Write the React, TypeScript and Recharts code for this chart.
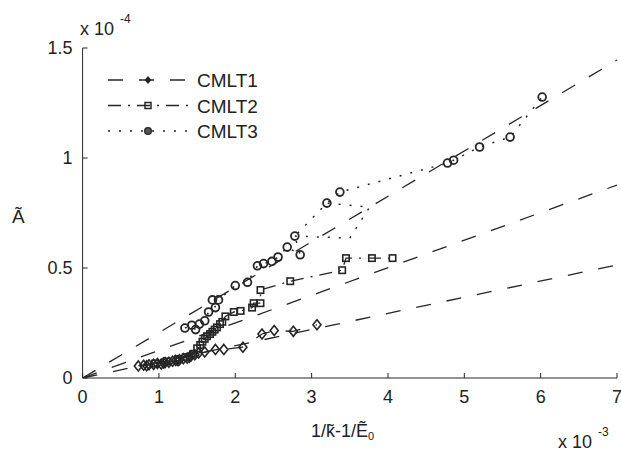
import { ComposedChart, Scatter, XAxis, YAxis } from "recharts";

// axis ticks (x in 1e-3, y in 1e-4)
const xTicks = [0, 1, 2, 3, 4, 5, 6, 7];
const yTicks = [0, 0.5, 1, 1.5];

// fitted lines through the origin, end points
const fitSteep: [number, number][] = [[0, 0], [7, 1.445]];
const fitMid: [number, number][] = [[0, 0], [7, 0.877]];
const fitFlat: [number, number][] = [[0, 0], [7, 0.514]];

const cmlt1: [number, number][] = [
  [0.73, 0.055], [0.8, 0.058], [0.84, 0.056], [0.87, 0.06], [0.93, 0.062], [0.98, 0.066],
  [1.03, 0.064], [1.06, 0.068], [1.08, 0.07], [1.13, 0.072], [1.18, 0.076], [1.22, 0.08],
  [1.25, 0.078], [1.27, 0.083], [1.32, 0.088], [1.37, 0.091], [1.4, 0.095], [1.42, 0.1],
  [1.47, 0.106], [1.52, 0.114], [1.6, 0.118], [1.74, 0.13], [1.85, 0.13], [2.1, 0.14],
  [2.35, 0.2], [2.51, 0.216], [2.76, 0.212], [3.07, 0.242],
];

const cmlt2: [number, number][] = [
  [0.95, 0.066], [1.1, 0.075], [1.25, 0.086], [1.35, 0.095], [1.45, 0.11], [1.5, 0.135],
  [1.54, 0.15], [1.57, 0.165], [1.6, 0.178], [1.63, 0.19], [1.67, 0.2], [1.7, 0.21],
  [1.73, 0.22], [1.76, 0.23], [1.8, 0.245], [1.83, 0.255], [1.87, 0.28], [1.98, 0.3],
  [2.07, 0.305], [2.22, 0.32], [2.24, 0.34], [2.33, 0.34], [2.33, 0.4], [2.72, 0.44],
  [3.4, 0.49], [3.45, 0.545], [3.79, 0.545], [4.06, 0.545],
];

const cmlt3: [number, number][] = [
  [1.34, 0.227], [1.43, 0.24], [1.48, 0.22], [1.53, 0.245], [1.6, 0.26], [1.65, 0.3],
  [1.74, 0.32], [1.7, 0.355], [1.78, 0.355], [2.0, 0.42], [2.16, 0.435], [2.29, 0.51],
  [2.37, 0.52], [2.48, 0.53], [2.56, 0.55], [2.68, 0.595], [2.85, 0.56], [2.78, 0.645],
  [3.2, 0.795], [3.37, 0.845], [4.78, 0.977], [4.86, 0.99], [5.2, 1.05], [5.6, 1.095],
  [6.02, 1.277],
];
const cmlt3Branch: [number, number][] = [[2.78, 0.645], [3.5, 0.636], [3.76, 0.777], [3.2, 0.795]];

const legendNames = ["CMLT1", "CMLT2", "CMLT3"];

const INK = "#262626";
const FONT = "'Liberation Sans', Arial, sans-serif";
const DASH = "15 16";
const DASHDOT = "13 7 2 7";
const DOT = "2 9";

const pts = (a: [number, number][]) => a.map(([x, y]) => ({ x, y }));

const Diamond = ({ cx, cy }: any) => (
  <path d={`M${cx},${cy - 5}L${cx + 4},${cy}L${cx},${cy + 5}L${cx - 4},${cy}Z`} fill="none" stroke={INK} strokeWidth={1.6} />
);
const Square = ({ cx, cy }: any) => (
  <rect x={cx - 3.2} y={cy - 3.2} width={6.4} height={6.4} fill="none" stroke={INK} strokeWidth={1.6} />
);
const Ring = ({ cx, cy }: any) => <circle cx={cx} cy={cy} r={3.9} fill="none" stroke={INK} strokeWidth={1.8} />;
const NoMark = () => <g />;

const XTick = ({ x, y, payload }: any) => (
  <g>
    <line x1={x} x2={x} y1={y} y2={y - 5} stroke={INK} />
    <text x={x} y={y + 25} textAnchor="middle" fontSize={18} fontFamily={FONT} fill="#222">
      {payload.value}
    </text>
  </g>
);

const YTick = ({ x, y, payload }: any) => (
  <g>
    <line x1={x} x2={x + 5} y1={y} y2={y} stroke={INK} />
    <text x={x - 10} y={y + 6} textAnchor="end" fontSize={18} fontFamily={FONT} fill="#222">
      {String(payload.value)}
    </text>
  </g>
);

const legendRows = [
  { dash: DASH, mark: (cx: number, cy: number) => <path d={`M${cx},${cy - 4}L${cx + 3.5},${cy}L${cx},${cy + 4}L${cx - 3.5},${cy}Z`} fill={INK} /> },
  { dash: DASHDOT, mark: (cx: number, cy: number) => <rect x={cx - 3} y={cy - 3} width={6} height={6} fill="none" stroke={INK} strokeWidth={1.5} /> },
  { dash: DOT, mark: (cx: number, cy: number) => <circle cx={cx} cy={cy} r={3.4} fill="#555" stroke={INK} strokeWidth={1.2} /> },
];

export default function App() {
  return (
    <div style={{ position: "absolute", left: 0, top: 0, width: 621, height: 460, background: "#fff" }}>
      <ComposedChart width={621} height={460} margin={{ top: 48, right: 4, bottom: 52, left: 22.6 }}>
        <XAxis
          type="number"
          dataKey="x"
          domain={[0, 7]}
          ticks={xTicks}
          interval={0}
          allowDataOverflow
          height={30}
          tickSize={0}
          tickMargin={0}
          tickLine={false}
          axisLine={{ stroke: INK }}
          tick={<XTick />}
        />
        <YAxis
          type="number"
          dataKey="y"
          domain={[0, 1.5]}
          ticks={yTicks}
          interval={0}
          allowDataOverflow
          width={60}
          tickSize={0}
          tickMargin={0}
          tickLine={false}
          axisLine={{ stroke: INK }}
          tick={<YTick />}
        />
        <Scatter data={pts(fitSteep)} line={{ stroke: INK, strokeWidth: 1.3, strokeDasharray: DASH }} shape={<NoMark />} isAnimationActive={false} />
        <Scatter data={pts(fitMid)} line={{ stroke: INK, strokeWidth: 1.3, strokeDasharray: DASH }} shape={<NoMark />} isAnimationActive={false} />
        <Scatter data={pts(fitFlat)} line={{ stroke: INK, strokeWidth: 1.3, strokeDasharray: DASH }} shape={<NoMark />} isAnimationActive={false} />
        <Scatter name="CMLT1" data={pts(cmlt1)} line={{ stroke: INK, strokeWidth: 1.3, strokeDasharray: DASH }} shape={<Diamond />} isAnimationActive={false} />
        <Scatter name="CMLT2" data={pts(cmlt2)} line={{ stroke: INK, strokeWidth: 1.3, strokeDasharray: DASHDOT }} shape={<Square />} isAnimationActive={false} />
        <Scatter name="CMLT3" data={pts(cmlt3)} line={{ stroke: INK, strokeWidth: 1.5, strokeDasharray: DOT }} shape={<Ring />} isAnimationActive={false} />
        <Scatter data={pts(cmlt3Branch)} line={{ stroke: INK, strokeWidth: 1.5, strokeDasharray: DOT }} shape={<NoMark />} isAnimationActive={false} />
      </ComposedChart>

      <svg width={621} height={460} style={{ position: "absolute", left: 0, top: 0, pointerEvents: "none" }}>
        {/* exponent labels */}
        <text x={80} y={35} fontSize={18} fontFamily={FONT} fill="#222">x 10</text>
        <text x={120} y={23} fontSize={12} fontFamily={FONT} fill="#222">-4</text>
        <text x={558} y={448} fontSize={18} fontFamily={FONT} fill="#222">x 10</text>
        <text x={598} y={436} fontSize={12} fontFamily={FONT} fill="#222">-3</text>
        {/* axis titles */}
        <text x={12} y={223} fontSize={19} fontFamily={FONT} fill="#222">Ã</text>
        <text x={311} y={437} fontSize={18} fontFamily={FONT} fill="#222">
          1/k̃-1/Ẽ<tspan fontSize={11} dy={3}>0</tspan>
        </text>
        {/* legend */}
        {legendRows.map((r, i) => {
          const cy = 80 + i * 25.5;
          return (
            <g key={legendNames[i]}>
              <line x1={108} x2={188} y1={cy} y2={cy} stroke={INK} strokeWidth={i === 2 ? 1.6 : 1.3} strokeDasharray={r.dash} />
              {r.mark(148, cy)}
              <text x={197} y={cy + 7} fontSize={19} fontFamily={FONT} fill="#222">{legendNames[i]}</text>
            </g>
          );
        })}
      </svg>
    </div>
  );
}
